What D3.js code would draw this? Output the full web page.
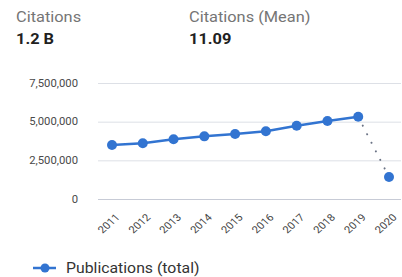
<!DOCTYPE html>
<html>
<head>
<meta charset="utf-8">
<script src="https://cdn.jsdelivr.net/npm/d3@7"></script>
<style>
  body { margin: 0; background: #fff; font-family: Roboto, "Noto Sans", sans-serif; }
</style>
</head>
<body>
<div id="chart"></div>
<script>
// Data
const years = ["2011", "2012", "2013", "2014", "2015", "2016", "2017", "2018", "2019", "2020"];
const publications = [3490000, 3600000, 3860000, 4050000, 4200000, 4380000, 4740000, 5040000, 5320000, 1420000];
const yTicks = [0, 2500000, 5000000, 7500000];
const stats = [
    { label: "Citations", value: "1.2 B" },
    { label: "Citations (Mean)", value: "11.09" }
];
const seriesName = "Publications (total)";

const W = 402, H = 277;
const color = "#3274d1";
const stretch = "scale(1.13,1)"; // text in the source looks a bit wide

const svg = d3.select("#chart").append("svg")
    .attr("width", W)
    .attr("height", H);

// Header stats
const stat = svg.selectAll("g.stat")
    .data(stats)
    .enter().append("g")
    .attr("class", "stat")
    .attr("transform", function (d, i) { return "translate(" + (i === 0 ? 16 : 189) + ",0) " + stretch; });

stat.append("text")
    .attr("y", 22)
    .attr("font-size", 14.5)
    .attr("fill", "#757575")
    .text(function (d) { return d.label; });

stat.append("text")
    .attr("y", 44)
    .attr("font-size", 14.5)
    .attr("font-weight", "bold")
    .attr("fill", "#212121")
    .text(function (d) { return d.value; });

// Scales
const x = d3.scalePoint()
    .domain(years)
    .range([112, 389]);

const y = d3.scaleLinear()
    .domain([0, 7500000])
    .range([199, 83]);

// Gridlines
svg.append("g")
    .selectAll("line")
    .data(yTicks)
    .enter().append("line")
    .attr("x1", 98)
    .attr("x2", 401)
    .attr("y1", function (d) { return y(d) + 0.5; })
    .attr("y2", function (d) { return y(d) + 0.5; })
    .attr("stroke", function (d) { return d === 0 ? "#c7cbd6" : "#dde0e6"; })
    .attr("stroke-width", 1);

// Y axis labels
const yAxis = svg.append("g")
    .attr("transform", "translate(78,0) " + stretch)
    .call(d3.axisLeft(y).tickValues(yTicks).tickSize(0).tickPadding(0).tickFormat(d3.format(",")));
yAxis.select(".domain").remove();
yAxis.selectAll("text")
    .attr("font-family", "Roboto, sans-serif")
    .attr("font-size", 10)
    .attr("fill", "#4a4a4a");

// X axis labels
const xAxis = svg.append("g")
    .attr("transform", "translate(0,199)")
    .call(d3.axisBottom(x).tickSize(0).tickPadding(0));
xAxis.select(".domain").remove();
xAxis.selectAll("text")
    .attr("font-family", "Roboto, sans-serif")
    .attr("font-size", 10)
    .attr("fill", "#444")
    .attr("text-anchor", "end")
    .attr("dy", null)
    .attr("y", 0)
    .attr("transform", "translate(8,19) " + stretch + " rotate(-45)");

// Solid line up to 2019, dotted to 2020
const pts = years.map(function (yr, i) { return [x(yr), y(publications[i])]; });
const line = d3.line();

svg.append("path")
    .attr("d", line(pts.slice(0, 9)))
    .attr("fill", "none")
    .attr("stroke", color)
    .attr("stroke-width", 2.5);

svg.append("path")
    .attr("d", line(pts.slice(8)))
    .attr("fill", "none")
    .attr("stroke", "#6b7385")
    .attr("stroke-width", 2)
    .attr("stroke-linecap", "round")
    .attr("stroke-dasharray", "0.1,9.5")
    .attr("stroke-dashoffset", -10);

svg.append("g")
    .selectAll("circle")
    .data(pts)
    .enter().append("circle")
    .attr("cx", function (d) { return d[0]; })
    .attr("cy", function (d) { return d[1]; })
    .attr("r", 5)
    .attr("fill", color);

// Legend
const legend = svg.append("g").attr("transform", "translate(0,268)");
legend.append("line")
    .attr("x1", 33).attr("x2", 56)
    .attr("stroke", color).attr("stroke-width", 2.5);
legend.append("circle")
    .attr("cx", 45).attr("r", 4.5).attr("fill", color);
legend.append("text")
    .attr("transform", "translate(66,5) " + stretch)
    .attr("font-size", 14)
    .attr("fill", "#333")
    .text(seriesName);
</script>
</body>
</html>
